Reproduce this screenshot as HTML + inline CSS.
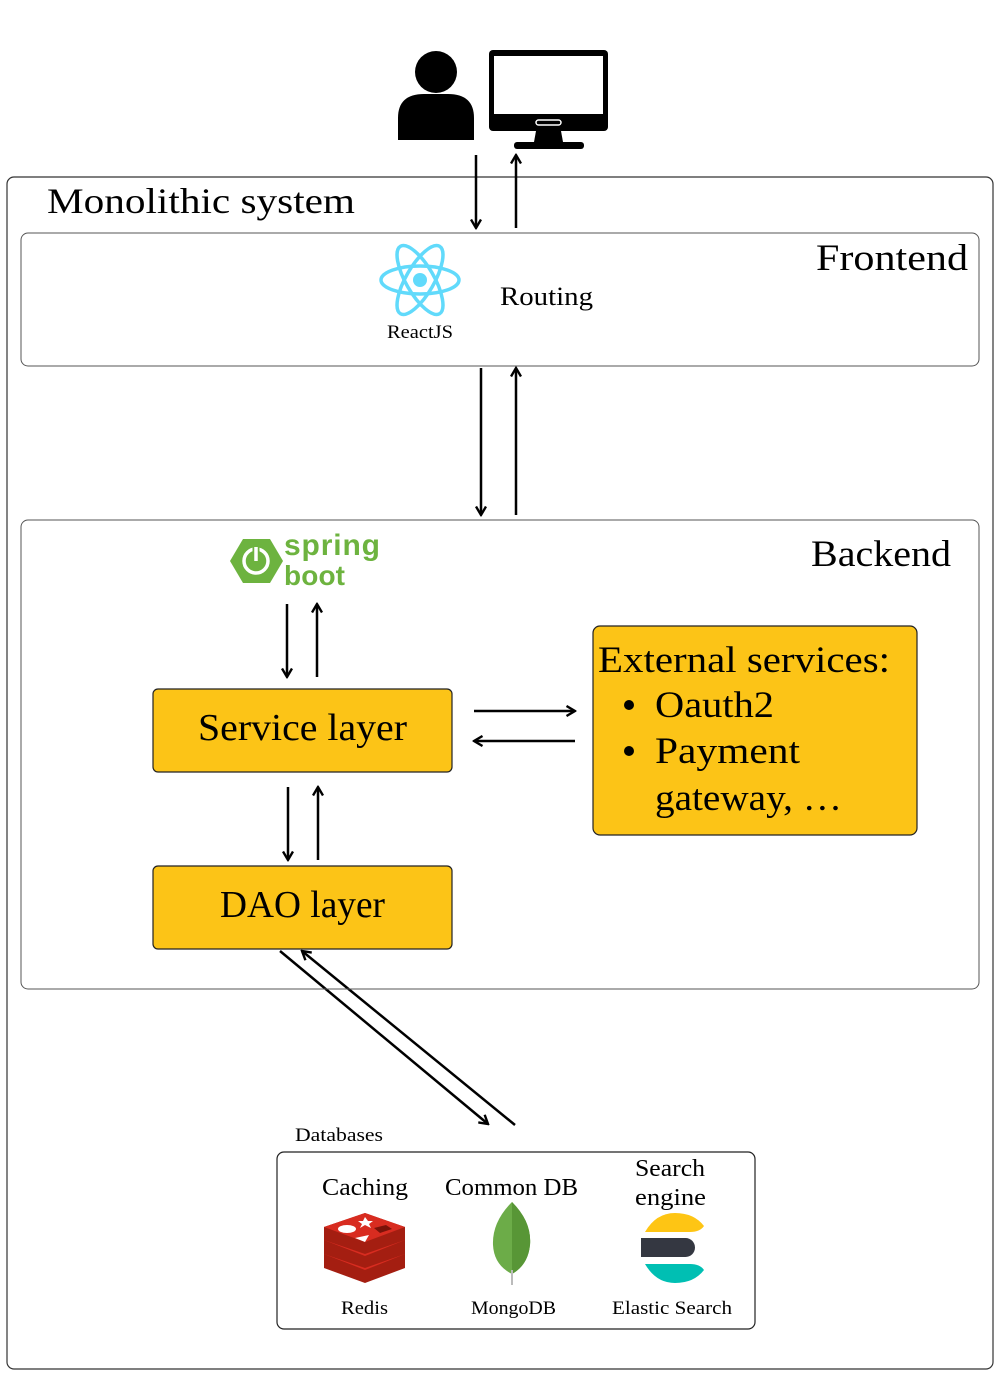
<!DOCTYPE html>
<html><head><meta charset="utf-8"><style>
html,body{margin:0;padding:0;background:#fff;}
svg{display:block;font-family:"Liberation Serif",serif;}
</style></head><body>
<svg width="1000" height="1400" viewBox="0 0 1000 1400" xmlns="http://www.w3.org/2000/svg">
<defs>
<marker id="a" viewBox="0 0 12 12" refX="10.5" refY="6" markerWidth="12" markerHeight="12" markerUnits="userSpaceOnUse" orient="auto-start-reverse">
<path d="M2,1 L10.5,6 L2,11" fill="none" stroke="#000" stroke-width="2.4"/>
</marker>
</defs>
<!-- user icon -->
<circle cx="436" cy="72" r="21" fill="#000"/>
<path d="M398,140 L398,118 Q398,94 424,94 L448,94 Q474,94 474,118 L474,140 Z" fill="#000"/>
<!-- monitor -->
<rect x="489" y="50" width="119" height="81" rx="4" fill="#000"/>
<rect x="494" y="56" width="109" height="58" fill="#fff"/>
<rect x="536" y="120" width="25" height="5" rx="2.5" fill="none" stroke="#fff" stroke-width="1.5"/>
<path d="M536,131 L561,131 L563,142 L534,142 Z" fill="#000"/>
<rect x="514" y="142" width="70" height="7" rx="3" fill="#000"/>
<!-- outer -->
<rect x="7" y="177" width="986" height="1192" rx="7" fill="none" stroke="#333" stroke-width="1.2"/>
<text x="47" y="213" font-size="36" textLength="308" lengthAdjust="spacingAndGlyphs">Monolithic system</text>
<!-- frontend -->
<rect x="21" y="233" width="958" height="133" rx="7" fill="none" stroke="#555" stroke-width="1"/>
<text x="816" y="270" font-size="37" textLength="152" lengthAdjust="spacingAndGlyphs">Frontend</text>
<g transform="translate(420,280)" fill="none" stroke="#61dafb" stroke-width="3.5">
<ellipse rx="39" ry="14"/><ellipse rx="39" ry="14" transform="rotate(60)"/><ellipse rx="39" ry="14" transform="rotate(120)"/>
<circle r="7" fill="#61dafb" stroke="none"/>
</g>
<text x="387" y="338" font-size="19" textLength="66" lengthAdjust="spacingAndGlyphs">ReactJS</text>
<text x="500" y="305" font-size="26" textLength="93" lengthAdjust="spacingAndGlyphs">Routing</text>
<!-- arrows -->
<g stroke="#000" stroke-width="2.5" fill="none">
<line x1="476" y1="155" x2="476" y2="228" marker-end="url(#a)"/>
<line x1="516" y1="228" x2="516" y2="155" marker-end="url(#a)"/>
<line x1="481" y1="368" x2="481" y2="515" marker-end="url(#a)"/>
<line x1="516" y1="515" x2="516" y2="368" marker-end="url(#a)"/>
<line x1="287" y1="604" x2="287" y2="677" marker-end="url(#a)"/>
<line x1="317" y1="677" x2="317" y2="604" marker-end="url(#a)"/>
<line x1="288" y1="787" x2="288" y2="860" marker-end="url(#a)"/>
<line x1="318" y1="860" x2="318" y2="787" marker-end="url(#a)"/>
<line x1="474" y1="711" x2="575" y2="711" marker-end="url(#a)"/>
<line x1="575" y1="741" x2="474" y2="741" marker-end="url(#a)"/>
<line x1="280" y1="951" x2="488" y2="1124" marker-end="url(#a)"/>
<line x1="515" y1="1125" x2="302" y2="951" marker-end="url(#a)"/>
</g>
<!-- backend -->
<rect x="21" y="520" width="958" height="469" rx="7" fill="none" stroke="#555" stroke-width="1"/>
<text x="811" y="566" font-size="37" textLength="140" lengthAdjust="spacingAndGlyphs">Backend</text>
<!-- spring -->
<polygon points="243,539 270,539 283,561 270,583 243,583 230,561" fill="#6db33f"/>
<circle cx="256" cy="561" r="12" fill="none" stroke="#fff" stroke-width="3.5"/>
<line x1="256" y1="546" x2="256" y2="561" stroke="#6db33f" stroke-width="7"/>
<line x1="256" y1="547" x2="256" y2="561" stroke="#fff" stroke-width="3.5"/>
<text x="284" y="555" font-size="30" font-family="Liberation Sans,sans-serif" font-weight="bold" fill="#6db33f" textLength="96">spring</text>
<text x="284" y="585" font-size="28" font-family="Liberation Sans,sans-serif" font-weight="bold" fill="#6db33f" textLength="61">boot</text>
<!-- service/dao -->
<rect x="153" y="689" width="299" height="83" rx="5" fill="#fcc417" stroke="#222" stroke-width="1.2"/>
<text x="198" y="740" font-size="38" textLength="209" lengthAdjust="spacingAndGlyphs">Service layer</text>
<rect x="153" y="866" width="299" height="83" rx="5" fill="#fcc417" stroke="#222" stroke-width="1.2"/>
<text x="220" y="917" font-size="38" textLength="165" lengthAdjust="spacingAndGlyphs">DAO layer</text>
<!-- external -->
<rect x="593" y="626" width="324" height="209" rx="7" fill="#fcc417" stroke="#222" stroke-width="1.2"/>
<text x="598" y="672" font-size="37" textLength="292" lengthAdjust="spacingAndGlyphs">External services:</text>
<circle cx="629" cy="705" r="5" fill="#000"/>
<circle cx="629" cy="751" r="5" fill="#000"/>
<text x="655" y="717" font-size="37" textLength="119" lengthAdjust="spacingAndGlyphs">Oauth2</text>
<text x="655" y="763" font-size="37" textLength="145" lengthAdjust="spacingAndGlyphs">Payment</text>
<text x="655" y="810" font-size="37" textLength="187" lengthAdjust="spacingAndGlyphs">gateway, …</text>
<!-- databases -->
<text x="295" y="1141" font-size="19" textLength="88" lengthAdjust="spacingAndGlyphs">Databases</text>
<rect x="277" y="1152" width="478" height="177" rx="7" fill="none" stroke="#222" stroke-width="1.2"/>
<text x="322" y="1195" font-size="24" textLength="86" lengthAdjust="spacingAndGlyphs">Caching</text>
<text x="445" y="1195" font-size="24" textLength="133" lengthAdjust="spacingAndGlyphs">Common DB</text>
<text x="635" y="1176" font-size="24" textLength="70" lengthAdjust="spacingAndGlyphs">Search</text>
<text x="635" y="1205" font-size="24" textLength="71" lengthAdjust="spacingAndGlyphs">engine</text>
<text x="341" y="1314" font-size="19" textLength="47" lengthAdjust="spacingAndGlyphs">Redis</text>
<text x="471" y="1314" font-size="19" textLength="85" lengthAdjust="spacingAndGlyphs">MongoDB</text>
<text x="612" y="1314" font-size="19" textLength="120" lengthAdjust="spacingAndGlyphs">Elastic Search</text>
<!-- redis -->
<g>
<path d="M324,1254 L365,1240 L405,1254 L405,1268 L365,1283 L324,1268 Z" fill="#a41e11"/>
<path d="M324,1254 L365,1240 L405,1254 L365,1270 Z" fill="#d82c20"/>
<path d="M324,1240 L365,1226 L405,1240 L405,1254 L365,1268 L324,1254 Z" fill="#a41e11"/>
<path d="M324,1240 L365,1226 L405,1240 L365,1256 Z" fill="#d82c20"/>
<path d="M324,1227 L365,1213 L405,1227 L405,1240 L365,1254 L324,1240 Z" fill="#a41e11"/>
<path d="M324,1227 L365,1213 L405,1227 L365,1242 Z" fill="#d82c20"/>
<ellipse cx="347" cy="1229" rx="9" ry="4" fill="#fff"/>
<polygon points="365,1217 368,1221 373,1221 369,1224 371,1228 365,1225 360,1228 362,1224 358,1221 363,1221" fill="#fff"/>
<polygon points="355,1238 369,1235 365,1242" fill="#fff"/>
<polygon points="374,1228 386,1225 392,1229 380,1233" fill="#7a1309"/>
</g>
<!-- mongo -->
<path d="M512,1202 Q532,1222 530,1245 Q528,1265 512,1274 Q494,1265 493,1245 Q492,1222 512,1202 Z" fill="#6cac48"/>
<path d="M512,1202 Q532,1222 530,1245 Q528,1265 512,1274 Z" fill="#589636"/>
<line x1="512" y1="1270" x2="512" y2="1285" stroke="#bbb" stroke-width="2"/>
<!-- elastic -->
<path d="M645,1232 Q656,1213 675,1213 Q694,1213 704,1226 Q700,1232 690,1232 Z" fill="#fec514"/>
<rect x="641" y="1238" width="54" height="19" rx="9.5" fill="#343741"/>
<rect x="641" y="1238" width="20" height="19" fill="#343741"/>
<path d="M645,1264 L690,1264 Q700,1264 704,1270 Q694,1283 675,1283 Q656,1283 645,1264 Z" fill="#00bfb3"/>
</svg>
</body></html>
